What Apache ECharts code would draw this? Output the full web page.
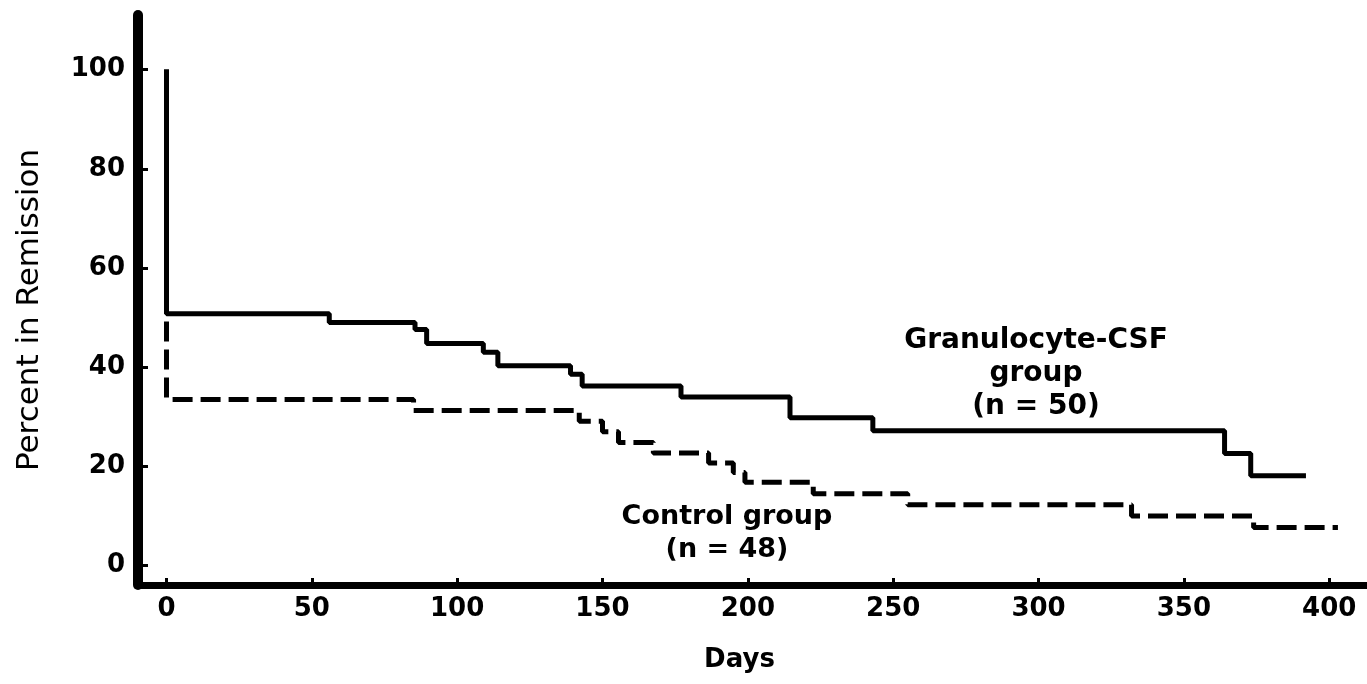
<!DOCTYPE html>
<html>
<head>
<meta charset="utf-8">
<title>Percent in Remission</title>
<script src="https://cdn.jsdelivr.net/npm/echarts@6/dist/echarts.min.js"></script>
<style>
  html, body { margin: 0; padding: 0; background: #fff; }
  #chart { width: 1367px; height: 684px; }
</style>
</head>
<body>
<div id="chart"></div>
<script>
// step curves: day where the level starts, and the level (%)
const gcsfDays   = [0, 0, 56, 85.5, 89.5, 109, 114, 139, 143, 177, 214.5, 243, 364, 373, 392];
const gcsfPct    = [100, 50.8, 49, 47.6, 44.8, 43, 40.3, 38.6, 36.2, 34, 29.8, 27.2, 22.6, 18.1, 18.1];
const controlDays = [0, 0, 85, 142, 150, 155.5, 167.5, 186.5, 195, 199, 222.5, 255, 332, 374, 403];
const controlPct  = [100, 33.5, 31.3, 29.1, 27, 24.8, 22.7, 20.7, 18.8, 16.8, 14.5, 12.3, 10, 7.7, 7.7];

const xTicks = [0, 50, 100, 150, 200, 250, 300, 350, 400];
const yTicks = [0, 20, 40, 60, 80, 100];

const gcsfLabel = ['Granulocyte-CSF', 'group', '(n = 50)'];
const controlLabel = ['Control group', '(n = 48)'];

function pairs(xs, ys) {
  return xs.map((x, i) => [x, ys[i]]);
}

const font = 'DejaVu Sans';
const chart = echarts.init(document.getElementById('chart'), null, { renderer: 'canvas' });

const option = {
  animation: false,
  backgroundColor: '#fff',
  // keep the plot box fixed, the axis titles sit outside it
  grid: { left: 138, right: 0, top: 15, bottom: 99, containLabel: false, outerBoundsMode: 'none' },
  xAxis: {
    type: 'value',
    min: -9.8,
    max: 413,
    name: 'Days',
    nameLocation: 'middle',
    nameGap: 62,
    nameTextStyle: { fontFamily: font, fontWeight: 'bold', fontSize: 26, color: '#000', padding: [0, 26, 0, 0] },
    axisLine: { show: true, onZero: false, lineStyle: { color: '#000', width: 7 } },
    axisTick: { show: true, inside: true, length: 7, customValues: xTicks, lineStyle: { color: '#000', width: 3 } },
    axisLabel: { customValues: xTicks, margin: 11, fontFamily: font, fontWeight: 'bold', fontSize: 26, color: '#000' },
    splitLine: { show: false }
  },
  yAxis: {
    type: 'value',
    min: -3.9,
    max: 111,
    axisLine: { show: true, onZero: false, lineStyle: { color: '#000', width: 10 } },
    axisTick: { show: true, inside: true, length: 10, customValues: yTicks, lineStyle: { color: '#000', width: 3 } },
    axisLabel: { customValues: yTicks, margin: 13, fontFamily: font, fontWeight: 'bold', fontSize: 26, color: '#000' },
    splitLine: { show: false }
  },
  series: [
    {
      name: 'Control group',
      type: 'line',
      step: 'end',
      symbol: 'none',
      data: pairs(controlDays, controlPct),
      lineStyle: { color: '#000', width: 5, type: [20, 8] }
    },
    {
      name: 'Granulocyte-CSF group',
      type: 'line',
      step: 'end',
      symbol: 'none',
      data: pairs(gcsfDays, gcsfPct),
      lineStyle: { color: '#000', width: 5 }
    }
  ],
  graphic: [
    {
      type: 'text',
      x: 30, y: 310,
      rotation: Math.PI / 2,
      style: {
        text: 'Percent in Remission',
        fontFamily: font, fontSize: 31, fill: '#000',
        align: 'center', verticalAlign: 'middle'
      }
    },
    {
      type: 'text',
      x: 1036, y: 374,
      style: {
        text: gcsfLabel.join('\n'),
        fontFamily: font, fontWeight: 'bold', fontSize: 28, lineHeight: 33,
        fill: '#000', align: 'center', verticalAlign: 'middle'
      }
    },
    {
      type: 'text',
      x: 727, y: 533,
      style: {
        text: controlLabel.join('\n'),
        fontFamily: font, fontWeight: 'bold', fontSize: 27, lineHeight: 33,
        fill: '#000', align: 'center', verticalAlign: 'middle'
      }
    }
  ]
};

chart.setOption(option);
</script>
</body>
</html>
